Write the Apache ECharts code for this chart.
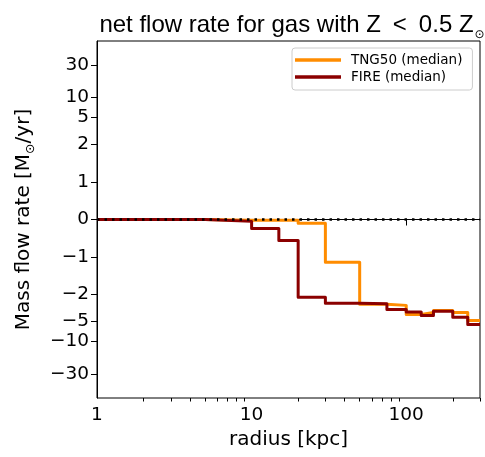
<!DOCTYPE html>
<html>
<head>
<meta charset="utf-8">
<script src="https://cdn.jsdelivr.net/npm/echarts@6/dist/echarts.min.js"></script>
<style>html,body{margin:0;padding:0;background:#fff}#c{width:485px;height:457px}</style>
</head>
<body>
<div id="c"></div>
<script>
// ---- data ----
const binEdges = [1, 5, 10, 15, 20, 30, 50, 75, 100, 125, 150, 200, 250, 300];
const tngMedian = [0, -0.02, -0.02, -0.02, -0.1, -1.14, -2.8, -2.9, -3.95, -3.7, -3.45, -3.7, -4.85];
const fireMedian = [0, -0.05, -0.24, -0.56, -2.2, -2.7, -2.75, -3.35, -3.65, -4.1, -3.55, -4.35, -5.55];
const yTickValues = [30, 10, 5, 2, 1, 0, -1, -2, -5, -10, -30];
const xMajorTicks = [1, 10, 100];
const xMinorTicks = [2, 3, 4, 5, 6, 7, 8, 9, 20, 30, 40, 50, 60, 70, 80, 90, 200, 300];
const xRange = [1, 300];

// symlog (linthresh = 2, linscale = 1, base 10)
const LT = 2, LSA = 1 / (1 - 1 / 10);
function T(v) {
  const a = Math.abs(v);
  if (a <= LT) return v * LSA;
  return Math.sign(v) * LT * (LSA + Math.log10(a / LT));
}
const lg = Math.log10;
function stepData(vals) {
  const pts = vals.map((v, i) => [lg(binEdges[i]), T(v)]);
  pts.push([lg(binEdges[binEdges.length - 1]), T(vals[vals.length - 1])]);
  return pts;
}
function fmtNum(v) { return v < 0 ? '\u2212' + Math.abs(v) : String(v); }

const yTicksT = yTickValues.map(T);
const YLIM = 5.29;
const tickFont = 'DejaVu Sans';

const chart = echarts.init(document.getElementById('c'), null, {renderer: 'canvas'});
chart.setOption({
  animation: false,
  title: {
    text: '{a|net flow rate for gas with Z\u2002<\u20020.5 Z}{s|\u2299}',
    left: 287, top: 4, textAlign: 'center',
    textStyle: {
      fontWeight: 'normal',
      rich: {
        a: {fontFamily: 'Liberation Sans', fontSize: 24, fontWeight: 'normal', color: '#000', lineHeight: 28, verticalAlign: 'bottom'},
        s: {fontFamily: 'DejaVu Sans', fontSize: 12, fontWeight: 'normal', color: '#000', lineHeight: 16, verticalAlign: 'bottom', padding: [0, 0, -4, 1]}
      }
    }
  },
  legend: {
    data: ['TNG50 (median)', 'FIRE (median)'],
    orient: 'vertical', left: 292, top: 48,
    icon: 'rect', itemWidth: 46, itemHeight: 3.5, itemGap: 3,
    padding: [5, 10, 6, 3],
    backgroundColor: '#fff', borderColor: '#cccccc', borderWidth: 1, borderRadius: 3,
    textStyle: {fontFamily: tickFont, fontSize: 13.5, color: '#000', padding: [0, 0, 0, 5]}
  },
  grid: {left: 97, right: 5, top: 41, bottom: 59, show: true, borderColor: '#000', borderWidth: 1, backgroundColor: 'transparent'},
  xAxis: [{
    type: 'value', min: lg(xRange[0]), max: lg(xRange[1]),
    name: 'radius [kpc]', nameLocation: 'middle', nameGap: 31,
    nameTextStyle: {fontFamily: tickFont, fontSize: 20, color: '#000'},
    axisLine: {show: true, lineStyle: {color: '#000', width: 1}},
    axisTick: {show: true, length: 6, lineStyle: {color: '#000', width: 1}, customValues: xMajorTicks.map(lg)},
    axisLabel: {show: true, customValues: xMajorTicks.map(lg), fontFamily: tickFont, fontSize: 18.5, color: '#000', margin: 8,
      formatter: v => String(Math.round(Math.pow(10, v)))},
    splitLine: {show: false}
  }, {
    type: 'value', min: lg(xRange[0]), max: lg(xRange[1]), position: 'bottom', gridIndex: 0,
    axisLine: {show: false},
    axisTick: {show: true, length: 3.5, lineStyle: {color: '#000', width: 1}, customValues: xMinorTicks.map(lg)},
    axisLabel: {show: false},
    splitLine: {show: false}
  }],
  yAxis: {
    type: 'value', min: -YLIM, max: YLIM,
    name: '{a|Mass flow rate [M}{s|\u2299}{a|/yr]}', nameLocation: 'middle', nameGap: 63, nameRotate: 90,
    nameTextStyle: {
      rich: {
        a: {fontFamily: tickFont, fontSize: 20, color: '#000', lineHeight: 24, verticalAlign: 'bottom'},
        s: {fontFamily: tickFont, fontSize: 12.5, color: '#000', lineHeight: 14, verticalAlign: 'bottom', padding: [0, 0, -3, 0]}
      }
    },
    axisLine: {show: true, lineStyle: {color: '#000', width: 1}},
    axisTick: {show: true, length: 6, lineStyle: {color: '#000', width: 1}, customValues: yTicksT},
    axisLabel: {show: true, customValues: yTicksT, fontFamily: tickFont, fontSize: 18.5, color: '#000', margin: 8,
      formatter: v => {
        let best = 0, bd = 1e9;
        yTickValues.forEach((t, i) => { const d = Math.abs(yTicksT[i] - v); if (d < bd) { bd = d; best = t; } });
        return fmtNum(best);
      }},
    splitLine: {show: false}
  },
  series: [{
    name: 'TNG50 (median)', type: 'line', step: 'end', data: stepData(tngMedian),
    showSymbol: false, symbol: 'none', color: '#ff8c00',
    lineStyle: {color: '#ff8c00', width: 3, join: 'round'}, z: 2
  }, {
    name: 'FIRE (median)', type: 'line', step: 'end', data: stepData(fireMedian),
    showSymbol: false, symbol: 'none', color: '#8b0000',
    lineStyle: {color: '#8b0000', width: 3, join: 'round'}, z: 3
  }, {
    name: 'zero', type: 'line', data: [[lg(xRange[0]), 0], [lg(xRange[1]), 0]],
    showSymbol: false, symbol: 'none', color: '#000',
    lineStyle: {color: '#000', width: 2.5, type: [2.5, 5]}, z: 4
  }]
});
</script>
</body>
</html>
